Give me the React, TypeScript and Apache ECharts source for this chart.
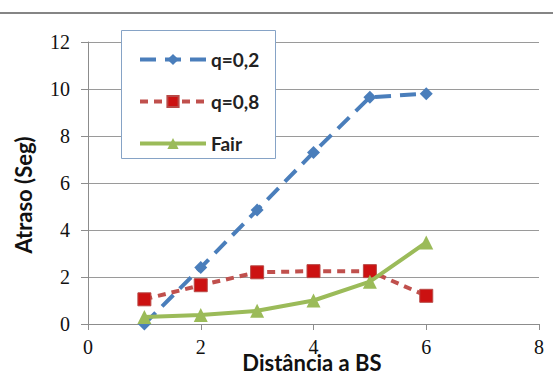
import React, { useEffect, useRef } from "react";
import * as echarts from "echarts";

const distances = [1, 2, 3, 4, 5, 6];
const seriesNames = ["q=0,2", "q=0,8", "Fair"];
const delayQ02 = [0, 2.4, 4.85, 7.3, 9.65, 9.8];
const delayQ08 = [1.05, 1.65, 2.2, 2.25, 2.25, 1.2];
const delayFair = [0.3, 0.38, 0.56, 1.0, 1.8, 3.47];

const xTitle = "Distância a BS";
const yTitle = "Atraso (Seg)";

const pairs = (ys: number[]) => distances.map((x, i) => [x, ys[i]]);

export default function App() {
  const ref = useRef<HTMLDivElement>(null);

  useEffect(() => {
    if (!ref.current) return;
    const chart = echarts.init(ref.current, null, { renderer: "svg" });
    const tickFont = {
      fontFamily: "Liberation Serif",
      fontSize: 20,
      color: "#111",
    };
    const titleFont = "Lato";
    chart.setOption({
      animation: false,
      backgroundColor: "#fff",
      grid: { left: 88, right: 14, top: 42, bottom: 54 },
      xAxis: {
        type: "value",
        min: 0,
        max: 8,
        interval: 2,
        axisLine: { lineStyle: { color: "#8c8c8c", width: 1 } },
        axisTick: { show: true, length: 6, lineStyle: { color: "#8c8c8c" } },
        axisLabel: { ...tickFont, margin: 13 },
        splitLine: { show: false },
      },
      yAxis: {
        type: "value",
        min: 0,
        max: 12,
        interval: 2,
        axisLine: { show: true, lineStyle: { color: "#8c8c8c", width: 1 } },
        axisTick: { show: true, length: 7, lineStyle: { color: "#8c8c8c" } },
        axisLabel: { ...tickFont, margin: 18 },
        splitLine: { show: true, lineStyle: { color: "#9a9a9a", width: 1 } },
      },
      legend: {
        orient: "vertical",
        left: 133,
        top: 45,
        itemWidth: 66,
        itemHeight: 14,
        itemGap: 23,
        data: seriesNames,
        lineStyle: { width: 4 },
        textStyle: {
          fontFamily: titleFont,
          fontSize: 19,
          fontWeight: "bold",
          color: "#222",
        },
      },
      graphic: [
        {
          type: "line",
          shape: { x1: 0, y1: 13, x2: 553, y2: 13 },
          style: { stroke: "#858585", lineWidth: 2 },
          z: 10,
        },
        {
          type: "rect",
          shape: { x: 121.5, y: 30.5, width: 154, height: 128 },
          style: { fill: "#fff", stroke: "#86a3c6", lineWidth: 1 },
          z: 2,
        },
        {
          type: "text",
          x: 23,
          y: 195,
          rotation: Math.PI / 2,
          style: {
            text: yTitle,
            fontFamily: titleFont,
            fontSize: 22,
            fontWeight: "bold",
            fill: "#111",
            align: "center",
            verticalAlign: "middle",
          },
        },
        {
          type: "text",
          x: 312,
          y: 362,
          style: {
            text: xTitle,
            fontFamily: titleFont,
            fontSize: 22,
            fontWeight: "bold",
            fill: "#111",
            align: "center",
            verticalAlign: "middle",
          },
          z: 5,
        },
      ],
      series: [
        {
          name: seriesNames[0],
          type: "line",
          data: pairs(delayQ02),
          symbol: "diamond",
          symbolSize: 13,
          itemStyle: { color: "#4a7ebb" },
          lineStyle: { color: "#4a7ebb", width: 4, type: [16, 9] },
          z: 3,
        },
        {
          name: seriesNames[1],
          type: "line",
          data: pairs(delayQ08),
          symbol: "rect",
          symbolSize: 13,
          itemStyle: { color: "#cc1111", borderColor: "#b84a47", borderWidth: 1 },
          lineStyle: { color: "#c0504d", width: 4, type: [8, 6] },
          z: 4,
        },
        {
          name: seriesNames[2],
          type: "line",
          data: pairs(delayFair),
          symbol: "triangle",
          symbolSize: 14,
          itemStyle: { color: "#9bbb59" },
          lineStyle: { color: "#9bbb59", width: 4 },
          z: 5,
        },
      ],
    });
    return () => chart.dispose();
  }, []);

  return (
    <div
      ref={ref}
      style={{ position: "fixed", left: 0, top: 0, width: 553, height: 378 }}
    />
  );
}
